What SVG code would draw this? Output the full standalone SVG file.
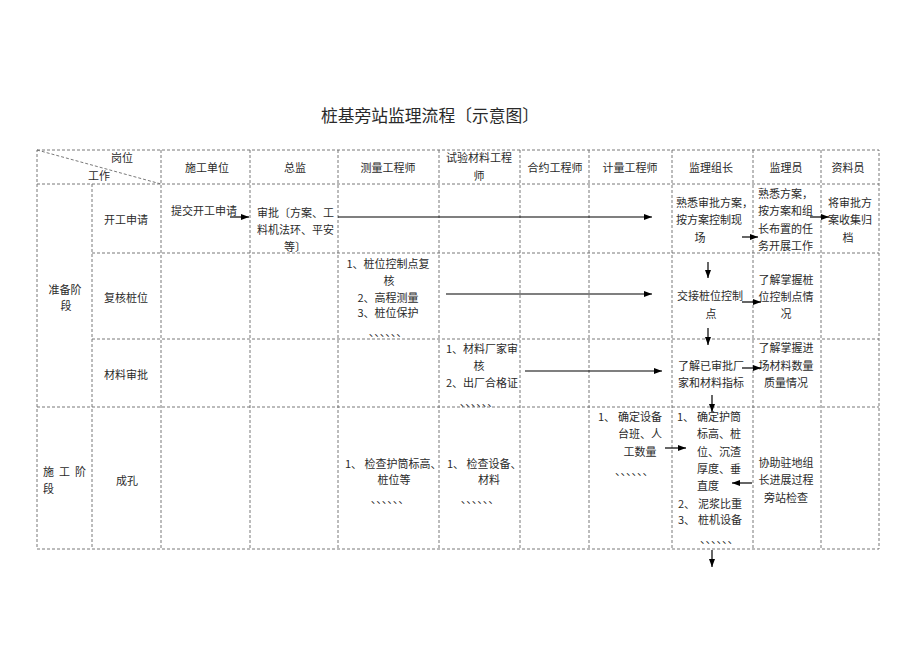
<svg xmlns="http://www.w3.org/2000/svg" width="920" height="651" viewBox="0 0 920 651">
<style>
.t{font-family:"Noto Sans CJK SC","Liberation Serif",serif;font-size:11px;fill:#2a2a2a;dominant-baseline:central}
.m{text-anchor:middle}
.e{text-anchor:end}
.title{font-family:"Noto Sans CJK SC","Liberation Serif",serif;font-size:16.8px;fill:#2a2a2a;text-anchor:middle;dominant-baseline:central}
.g{stroke:#6a6a6a;stroke-width:0.9;stroke-dasharray:3 2;fill:none}
.c{stroke:#000;stroke-width:1.2;fill:none;marker-end:url(#ah)}
</style>
<defs>
<marker id="ah" markerWidth="8" markerHeight="6" refX="8" refY="3" orient="auto" markerUnits="userSpaceOnUse">
<path d="M0,0 L8,3 L0,6 z" fill="#000"/>
</marker>
</defs>
<rect width="920" height="651" fill="#fff"/>
<text class="title" x="430" y="115">桩基旁站监理流程〔示意图〕</text>
<g id="grid">
<rect class="g" x="37" y="150" width="842" height="399"/>
<line class="g" x1="37" y1="150" x2="161" y2="184"/>
<line class="g" x1="37" y1="184" x2="879" y2="184"/>
<line class="g" x1="92" y1="253" x2="879" y2="253"/>
<line class="g" x1="92" y1="339" x2="879" y2="339"/>
<line class="g" x1="37" y1="407" x2="879" y2="407"/>
<line class="g" x1="92" y1="184" x2="92" y2="549"/>
<line class="g" x1="161" y1="150" x2="161" y2="549"/>
<line class="g" x1="250" y1="150" x2="250" y2="549"/>
<line class="g" x1="338" y1="150" x2="338" y2="549"/>
<line class="g" x1="439" y1="150" x2="439" y2="549"/>
<line class="g" x1="520" y1="150" x2="520" y2="549"/>
<line class="g" x1="589" y1="150" x2="589" y2="549"/>
<line class="g" x1="672" y1="150" x2="672" y2="549"/>
<line class="g" x1="753" y1="150" x2="753" y2="549"/>
<line class="g" x1="821" y1="150" x2="821" y2="549"/>
</g>
<g id="header">
<text class="t m" x="122" y="157">岗位</text>
<text class="t m" x="99" y="175">工作</text>
<text class="t m" x="207" y="167">施工单位</text>
<text class="t m" x="295" y="167">总监</text>
<text class="t m" x="388" y="167">测量工程师</text>
<text class="t m" x="479" y="157">试验材料工程</text>
<text class="t m" x="479" y="175">师</text>
<text class="t m" x="555" y="167">合约工程师</text>
<text class="t m" x="630" y="167">计量工程师</text>
<text class="t m" x="711" y="167">监理组长</text>
<text class="t m" x="786" y="167">监理员</text>
<text class="t m" x="848" y="167">资料员</text>
</g>
<g id="phase-prep">
<text class="t m" x="65" y="289">准备阶</text>
<text class="t m" x="66" y="305">段</text>
</g>
<g id="phase-build">
<text class="t" x="43" y="471">施</text>
<text class="t" x="59" y="471">工</text>
<text class="t" x="75" y="471">阶</text>
<text class="t" x="43" y="488">段</text>
</g>
<g id="row1">
<text class="t m" x="126" y="219">开工申请</text>
<g id="n-submit"><text class="t" x="171" y="210">提交开工申请</text></g>
<g id="n-approve">
<text class="t" x="257" y="212">审批〔方案、工</text>
<text class="t" x="257" y="229">料机法环、平安</text>
<text class="t" x="284" y="246">等〕</text>
</g>
<g id="n-leader1">
<text class="t" x="676" y="202">熟悉审批方案，</text>
<text class="t" x="676" y="219">按方案控制现</text>
<text class="t m" x="700" y="237">场</text>
</g>
<g id="n-staff1">
<text class="t" x="758" y="193">熟悉方案，</text>
<text class="t" x="758" y="210">按方案和组</text>
<text class="t" x="758" y="228">长布置的任</text>
<text class="t" x="758" y="245">务开展工作</text>
</g>
<g id="n-archive">
<text class="t m" x="850" y="202">将审批方</text>
<text class="t m" x="850" y="219">案收集归</text>
<text class="t m" x="848" y="237">档</text>
</g>
</g>
<g id="row2">
<text class="t m" x="126" y="297">复核桩位</text>
<g id="n-survey1">
<text class="t m" x="388" y="263">1、桩位控制点复</text>
<text class="t m" x="389" y="280">核</text>
<text class="t m" x="388" y="297">2、高程测量</text>
<text class="t m" x="388" y="312">3、桩位保护</text>
<text class="t m" x="388" y="331">、、、、、、</text>
</g>
<g id="n-leader2">
<text class="t" x="677" y="295">交接桩位控制</text>
<text class="t m" x="711" y="313">点</text>
</g>
<g id="n-staff2">
<text class="t m" x="786" y="279">了解掌握桩</text>
<text class="t m" x="786" y="296">位控制点情</text>
<text class="t m" x="786" y="313">况</text>
</g>
</g>
<g id="row3">
<text class="t m" x="126" y="374">材料审批</text>
<g id="n-test1">
<text class="t" x="446" y="348">1、材料厂家审</text>
<text class="t m" x="479" y="365">核</text>
<text class="t" x="446" y="382">2、出厂合格证</text>
<text class="t m" x="479" y="401">、、、、、、</text>
</g>
<g id="n-leader3">
<text class="t" x="678" y="365">了解已审批厂</text>
<text class="t" x="678" y="382">家和材料指标</text>
</g>
<g id="n-staff3">
<text class="t m" x="786" y="347">了解掌握进</text>
<text class="t m" x="786" y="365">场材料数量</text>
<text class="t m" x="786" y="382">质量情况</text>
</g>
</g>
<g id="row4">
<text class="t m" x="127" y="480">成孔</text>
<g id="n-survey2">
<text class="t" x="345" y="463">1、 检查护筒标高、</text>
<text class="t m" x="394" y="479">桩位等</text>
<text class="t m" x="390" y="498">、、、、、、</text>
</g>
<g id="n-test2">
<text class="t" x="447" y="463">1、 检查设备、</text>
<text class="t m" x="489" y="479">材料</text>
<text class="t m" x="480" y="498">、、、、、、</text>
</g>
<g id="n-measure">
<text class="t" x="598" y="416">1、</text>
<text class="t e" x="662" y="416">确定设备</text>
<text class="t e" x="662" y="433">台班、人</text>
<text class="t m" x="640" y="451">工数量</text>
<text class="t" x="615" y="470">、、、、、、</text>
</g>
<g id="n-leader4">
<text class="t" x="677" y="416">1、</text>
<text class="t" x="697" y="416">确定护筒</text>
<text class="t" x="697" y="433">标高、桩</text>
<text class="t" x="697" y="451">位、沉渣</text>
<text class="t" x="697" y="468">厚度、垂</text>
<text class="t" x="697" y="485">直度</text>
<text class="t" x="678" y="503">2、</text>
<text class="t" x="698" y="503">泥浆比重</text>
<text class="t" x="678" y="519">3、</text>
<text class="t" x="698" y="519">桩机设备</text>
<text class="t" x="700" y="538">、、、、、、</text>
</g>
<g id="n-staff4">
<text class="t m" x="786" y="462">协助驻地组</text>
<text class="t m" x="786" y="479">长进展过程</text>
<text class="t m" x="786" y="497">旁站检查</text>
</g>
</g>
<g id="connectors">
<line class="c" x1="230" y1="217" x2="249" y2="217"/>
<line class="c" x1="338" y1="217" x2="652" y2="217"/>
<line class="c" x1="742" y1="237" x2="758" y2="237"/>
<line class="c" x1="810" y1="217" x2="829" y2="217"/>
<line class="c" x1="446" y1="294" x2="652" y2="294"/>
<line class="c" x1="708" y1="262" x2="708" y2="278"/>
<line class="c" x1="742" y1="302" x2="761" y2="302"/>
<line class="c" x1="708" y1="328" x2="708" y2="345"/>
<line class="c" x1="525" y1="371" x2="662" y2="371"/>
<line class="c" x1="742" y1="368" x2="761" y2="368"/>
<line class="c" x1="712" y1="395" x2="712" y2="412"/>
<line class="c" x1="665" y1="448" x2="686" y2="448"/>
<line class="c" x1="752" y1="483" x2="732" y2="483"/>
<line class="c" x1="712" y1="550" x2="712" y2="567"/>
</g>
</svg>
